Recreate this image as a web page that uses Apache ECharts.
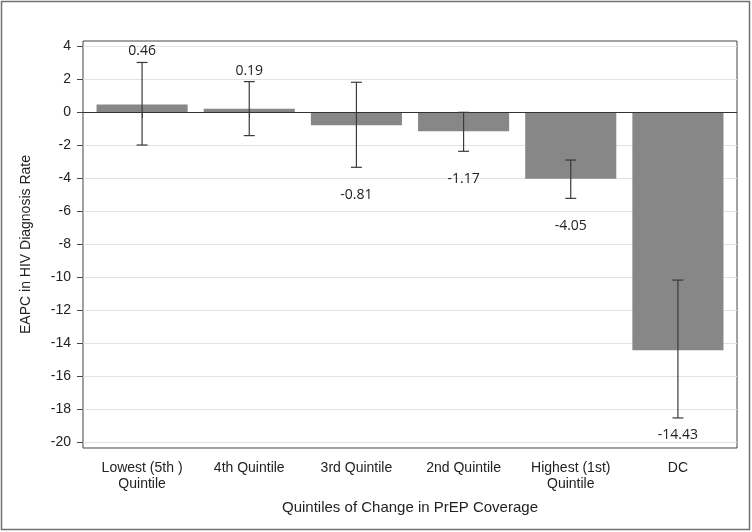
<!DOCTYPE html>
<html><head><meta charset="utf-8">
<script src="https://cdn.jsdelivr.net/npm/echarts@6/dist/echarts.min.js"></script>
<style>html,body{margin:0;padding:0;background:#fff}#c{width:752px;height:532px}</style>
</head><body><div id="c"></div>
<script>
const categories = ['Lowest (5th )\nQuintile', '4th Quintile', '3rd Quintile', '2nd Quintile', 'Highest (1st)\nQuintile', 'DC'];
const eapc = [0.46, 0.19, -0.81, -1.17, -4.05, -14.43];
const ciLower = [-2.0, -1.43, -3.35, -2.38, -5.23, -18.53];
const ciUpper = [3.0, 1.84, 1.8, -0.02, -2.91, -10.18];
const yTicks = [-20, -18, -16, -14, -12, -10, -8, -6, -4, -2, 0, 2, 4];
const yMin = -20.35, yMax = 4.3;

const chart = echarts.init(document.getElementById('c'), null, {renderer: 'canvas'});
const FONT = "'Liberation Sans', Arial, sans-serif";
const errData = categories.map((c, i) => [i, ciLower[i], ciUpper[i], eapc[i]]);

chart.setOption({
  animation: false,
  backgroundColor: '#fff',
  graphic: [{
    type: 'rect', shape: {x: 1.5, y: 1.5, width: 748, height: 528},
    style: {fill: 'none', stroke: '#707070', lineWidth: 1.5}, silent: true, z: 100
  }],
  grid: [
    {left: 83, top: 41, width: 654, height: 407, show: true, borderColor: '#444', borderWidth: 1, backgroundColor: 'transparent'},
    {left: 88.5, top: 41, width: 643, height: 407}
  ],
  xAxis: [
    {type: 'value', gridIndex: 0, min: 0, max: 1, show: false},
    {type: 'category', gridIndex: 1, data: categories, boundaryGap: true,
     axisLine: {show: false},
     axisTick: {show: true, alignWithLabel: true, length: 6, lineStyle: {color: '#444'}},
     axisLabel: {color: '#222', fontFamily: FONT, fontSize: 14, lineHeight: 16, margin: 12, interval: 0},
     name: 'Quintiles of Change in PrEP Coverage', nameLocation: 'middle', nameGap: 52,
     nameTextStyle: {color: '#222', fontFamily: FONT, fontSize: 15}
    }
  ],
  yAxis: [
    {type: 'value', gridIndex: 0, min: yMin, max: yMax,
     axisLine: {show: false},
     axisTick: {show: true, length: 6, customValues: yTicks, lineStyle: {color: '#444'}},
     axisLabel: {color: '#222', fontFamily: FONT, fontSize: 14, margin: 12, customValues: yTicks},
     splitLine: {show: true, lineStyle: {color: '#e2e2e2', width: 1.2}},
     name: 'EAPC in HIV Diagnosis Rate', nameLocation: 'middle', nameGap: 50,
     nameTextStyle: {color: '#222', fontFamily: FONT, fontSize: 14}
    },
    {type: 'value', gridIndex: 1, min: yMin, max: yMax, show: false, splitLine: {show: false}}
  ],
  series: [
    {type: 'line', xAxisIndex: 0, yAxisIndex: 0, data: [], silent: true,
     markLine: {symbol: 'none', silent: true, label: {show: false},
       lineStyle: {color: '#333', width: 1, type: 'solid'}, data: [{yAxis: 0}]}},
    {type: 'bar', xAxisIndex: 1, yAxisIndex: 1, data: eapc, barCategoryGap: '15%',
     itemStyle: {color: '#878787'}, z: 2},
    {type: 'custom', xAxisIndex: 1, yAxisIndex: 1, data: errData, z: 5,
     renderItem: function (params, api) {
       const i = api.value(0);
       const x = api.coord([i, 0])[0];
       const yLo = api.coord([i, api.value(1)])[1];
       const yHi = api.coord([i, api.value(2)])[1];
       const v = api.value(3);
       const cap = 5.5;
       const st = {stroke: '#3a3a3a', lineWidth: 1.2};
       const bottom = params.coordSys.y + params.coordSys.height;
       const ty = v >= 0 ? yHi - 11 : Math.min(yLo + 28, bottom - 13);
       return {type: 'group', children: [
         {type: 'line', shape: {x1: x, y1: yHi, x2: x, y2: yLo}, style: st},
         {type: 'line', shape: {x1: x - cap, y1: yHi, x2: x + cap, y2: yHi}, style: st},
         {type: 'line', shape: {x1: x - cap, y1: yLo, x2: x + cap, y2: yLo}, style: st},
         {type: 'text', style: {text: v.toFixed(2), x: x, y: ty, align: 'center', verticalAlign: 'middle',
           fill: '#222', font: "14px 'Open Sans', sans-serif"}}
       ]};
     }
    }
  ]
});
</script></body></html>
